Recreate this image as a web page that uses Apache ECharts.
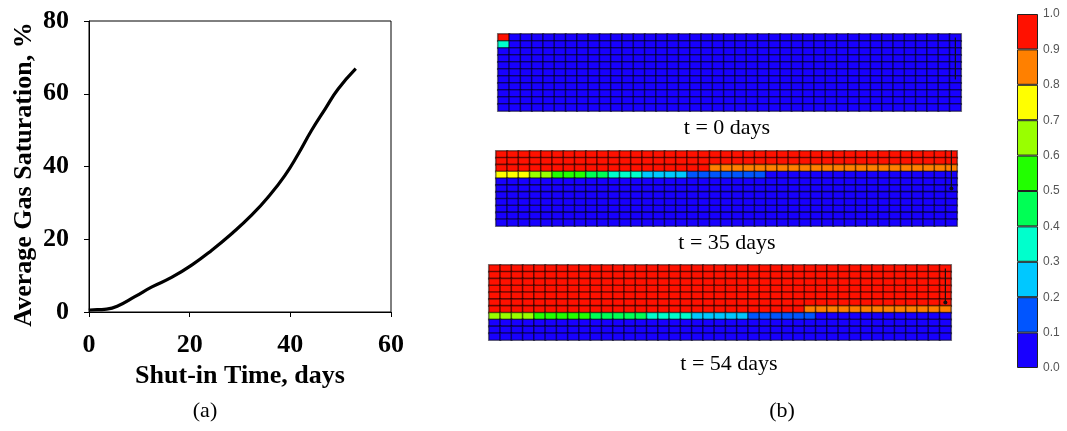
<!DOCTYPE html>
<html><head><meta charset="utf-8">
<script src="https://cdn.jsdelivr.net/npm/echarts@6/dist/echarts.min.js"></script>
<style>html,body{margin:0;padding:0;background:#fff}#c{width:1067px;height:431px}</style>
</head><body><div id="c"></div>
<script>
// ---- panel (a): average gas saturation vs shut-in time ----
const shutInDays    = [0, 0.2, 3.5, 5.8, 9.1, 12.5, 16.4, 20.4, 24.4, 28.4, 32.3, 35.6, 38.9, 41.6, 44.2, 46.9, 49.5, 53];
const gasSaturation = [0.5, 0.55, 0.8, 1.7, 4.2, 6.9, 9.5, 12.9, 17, 21.6, 26.6, 31.6, 37.5, 43.5, 49.9, 55.8, 61.3, 66.9];
const xTickValues = [0, 20, 40, 60];
const yTickValues = [0, 20, 40, 60, 80];

// ---- panel (b): gas saturation maps (digit = saturation class, 0 -> 0.0-0.1 ... 9 -> 0.9-1.0) ----
const colorbarTicks = ['0.0','0.1','0.2','0.3','0.4','0.5','0.6','0.7','0.8','0.9','1.0'];
const levelColors = ['#1800ff','#0055ff','#00c8ff','#00ffcc','#00ff55','#22ff00','#99ff00','#ffff00','#ff8000','#ff1100'];
const snapshotLabels = ['t = 0 days', 't = 35 days', 't = 54 days'];
const snapDay0 = [
  '9000000000 0000000000 0000000000 0000000000 0',
  '3000000000 0000000000 0000000000 0000000000 0',
  '0000000000 0000000000 0000000000 0000000000 0',
  '0000000000 0000000000 0000000000 0000000000 0',
  '0000000000 0000000000 0000000000 0000000000 0',
  '0000000000 0000000000 0000000000 0000000000 0',
  '0000000000 0000000000 0000000000 0000000000 0',
  '0000000000 0000000000 0000000000 0000000000 0',
  '0000000000 0000000000 0000000000 0000000000 0',
  '0000000000 0000000000 0000000000 0000000000 0',
  '0000000000 0000000000 0000000000 0000000000 0'
];
const snapDay35 = [
  '9999999999 9999999999 9999999999 9999999999 9',
  '9999999999 9999999999 9999999999 9999999999 9',
  '9999999999 9999999998 8888888888 8888888888 8',
  '7776655544 3332222111 1111000000 0000000000 0',
  '0000000000 0000000000 0000000000 0000000000 0',
  '0000000000 0000000000 0000000000 0000000000 0',
  '0000000000 0000000000 0000000000 0000000000 0',
  '0000000000 0000000000 0000000000 0000000000 0',
  '0000000000 0000000000 0000000000 0000000000 0',
  '0000000000 0000000000 0000000000 0000000000 0',
  '0000000000 0000000000 0000000000 0000000000 0'
];
const snapDay54 = [
  '9999999999 9999999999 9999999999 9999999999 9',
  '9999999999 9999999999 9999999999 9999999999 9',
  '9999999999 9999999999 9999999999 9999999999 9',
  '9999999999 9999999999 9999999999 9999999999 9',
  '9999999999 9999999999 9999999999 9999999999 9',
  '9999999999 9999999999 9999999999 9999999999 9',
  '9999999999 9999999999 9999999988 8888888888 8',
  '6666555554 4444333322 2221111110 0000000000 0',
  '0000000000 0000000000 0000000000 0000000000 0',
  '0000000000 0000000000 0000000000 0000000000 0',
  '0000000000 0000000000 0000000000 0000000000 0'
];
// well trajectory (column index, row index) drawn on each map
const wellTrack0  = [[40, -0.5], [40, 5.2], [39.6, 5.8]];
const wellTrack35 = [[40, -0.8], [40, 5.3]];
const wellTrack54 = [[40, -0.5], [40, 5.3]];

// ---------------------------------------------------------------
const snaps = [snapDay0, snapDay35, snapDay54];
const wells = [wellTrack0, wellTrack35, wellTrack54];
const nCols = snapDay0[0].replace(/ /g, '').length;
const nRows = snapDay0.length;
const colCats = Array.from({length: nCols}, (_, i) => String(i));
const rowCats = Array.from({length: nRows}, (_, i) => String(i));
function toCells(rows) {
  const out = [];
  rows.forEach((r, ri) => {
    r.replace(/ /g, '').split('').forEach((ch, ci) => out.push([ci, ri, Number(ch) / 10 + 0.05]));
  });
  return out;
}
const mapBoxes = [
  {left: 498, top: 34, width: 463, height: 77},
  {left: 496, top: 151, width: 461, height: 75},
  {left: 489, top: 265, width: 462, height: 75}
];
const labelPos = [[727, 128], [727, 243], [729, 364]];

const grids = [{left: 89, top: 21, width: 302, height: 291, show: true, borderColor: '#000', borderWidth: 1}];
const xAxes = [{
  gridIndex: 0, type: 'value', min: 0, max: 60, interval: 20,
  name: 'Shut-in Time, days', nameLocation: 'middle', nameGap: 40,
  nameTextStyle: {fontFamily: 'Liberation Serif', fontWeight: 'bold', fontSize: 26, color: '#000'},
  axisLine: {lineStyle: {color: '#000'}}, axisTick: {length: 5, lineStyle: {color: '#000'}},
  splitLine: {show: false},
  axisLabel: {margin: 20, fontFamily: 'Liberation Serif', fontWeight: 'bold', fontSize: 26, color: '#000',
    customValues: xTickValues}
}];
const yAxes = [{
  gridIndex: 0, type: 'value', min: 0, max: 80, interval: 20,
  name: 'Average Gas Saturation, %', nameLocation: 'middle', nameGap: 52,
  nameTextStyle: {fontFamily: 'Liberation Serif', fontWeight: 'bold', fontSize: 26, color: '#000',
    padding: [0, 16, 0, 0]},
  axisLine: {lineStyle: {color: '#000'}}, axisTick: {length: 5, lineStyle: {color: '#000'}},
  splitLine: {show: false},
  axisLabel: {margin: 20, fontFamily: 'Liberation Serif', fontWeight: 'bold', fontSize: 26, color: '#000',
    customValues: yTickValues}
}];
const series = [{
  type: 'line', xAxisIndex: 0, yAxisIndex: 0, smooth: true, showSymbol: false,
  lineStyle: {color: '#000', width: 3.2},
  data: shutInDays.map((t, i) => [t, gasSaturation[i]])
}];
const heatIdx = [];
mapBoxes.forEach((b, k) => {
  const gi = grids.length;
  grids.push(Object.assign({}, b));
  xAxes.push({gridIndex: gi, type: 'category', data: colCats, show: false});
  yAxes.push({gridIndex: gi, type: 'category', data: rowCats, inverse: true, show: false});
  heatIdx.push(series.length);
  series.push({
    type: 'heatmap', xAxisIndex: gi, yAxisIndex: gi, data: toCells(snaps[k]),
    itemStyle: {borderColor: 'rgba(0,0,0,0.5)', borderWidth: 1.6},
    emphasis: {disabled: true}, silent: true
  });
});
mapBoxes.forEach((b, k) => {
  const gi = k + 1;
  const pts = wells[k].map((p, i) => i === wells[k].length - 1 && k > 0
      ? {value: p, symbol: 'circle', symbolSize: 4} : {value: p, symbol: 'none'});
  series.push({
    type: 'line', xAxisIndex: gi, yAxisIndex: gi, data: pts, silent: true,
    lineStyle: {color: '#111', width: 1.2}, itemStyle: {color: '#111'}, z: 5
  });
});
// colorbar
const cbGi = grids.length;
grids.push({left: 1017, top: 14, width: 21, height: 354});
xAxes.push({gridIndex: cbGi, type: 'category', data: ['S'], show: false});
yAxes.push({gridIndex: cbGi, type: 'value', min: 0, max: 1, interval: 0.1, position: 'right',
  axisLine: {show: false}, axisTick: {show: false}, splitLine: {show: false},
  axisLabel: {margin: 5, fontFamily: 'Liberation Sans', fontSize: 12, color: '#555',
    formatter: (v) => colorbarTicks[Math.round(v * 10)]}});
levelColors.forEach((c, i) => {
  series.push({
    type: 'bar', xAxisIndex: cbGi, yAxisIndex: cbGi, stack: 'cb', barWidth: '100%', silent: true,
    data: [0.1], itemStyle: {color: c, borderColor: '#222', borderWidth: 1}
  });
});

const graphics = snapshotLabels.map((s, k) => ({
  type: 'text', x: labelPos[k][0], y: labelPos[k][1],
  style: {text: s, font: '22px "Liberation Serif"', fill: '#000', align: 'center', verticalAlign: 'middle'}
}));
graphics.push({type: 'text', x: 205, y: 411, style: {text: '(a)', font: '22px "Liberation Serif"', fill: '#000', align: 'center', verticalAlign: 'middle'}});
graphics.push({type: 'text', x: 782, y: 411, style: {text: '(b)', font: '22px "Liberation Serif"', fill: '#000', align: 'center', verticalAlign: 'middle'}});

const chart = echarts.init(document.getElementById('c'));
chart.setOption({
  animation: false,
  grid: grids, xAxis: xAxes, yAxis: yAxes, series: series,
  visualMap: {
    type: 'piecewise', show: false, seriesIndex: heatIdx, dimension: 2,
    pieces: levelColors.map((c, i) => ({gte: i / 10, lt: (i + 1) / 10 + (i === 9 ? 0.01 : 0), color: c}))
  },
  graphic: graphics
});
</script></body></html>
